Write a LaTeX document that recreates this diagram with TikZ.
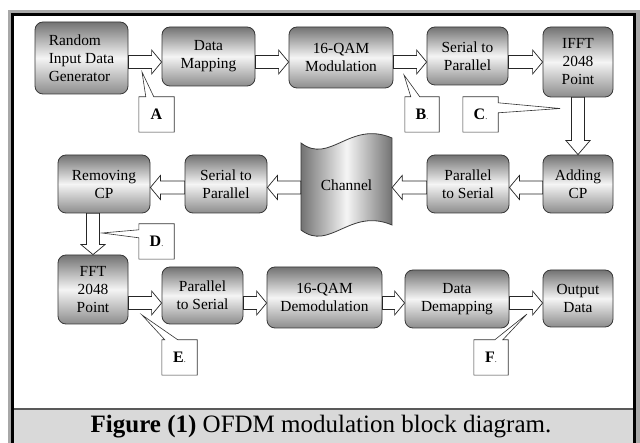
\documentclass[tikz,border=0pt]{standalone}
\usepackage{fontspec}
\setmainfont{Liberation Serif}
\usetikzlibrary{calc}

\definecolor{boxtop}{gray}{0.45}
\definecolor{boxmid}{gray}{0.96}
\definecolor{boxbot}{gray}{0.55}
\definecolor{edge}{gray}{0.22}
\definecolor{tablegray}{gray}{0.66}
\definecolor{capfill}{gray}{0.85}

% hollow block arrow geometry
\def\flowshaft{6.5pt}
\def\flowwing{12pt}
\def\flowhead{10pt}

\tikzset{
  stage/.style={draw=edge, line width=0.8pt, rounded corners=8pt,
    top color=boxtop, bottom color=boxbot, middle color=boxmid,
    inner sep=0pt, align=center, font=\fontsize{15.4}{18}\selectfont},
  flowhead/.code={\def\flowhead{#1}},
  flow/.style={draw=black!85, fill=white, line width=0.7pt, line join=miter,
    to path={
      let \p1=(\tikztostart), \p2=(\tikztotarget),
          \p3=($(\tikztotarget)!\flowhead!(\tikztostart)$)
      in ($(\p1)!\flowshaft!90:(\p2)$) -- ($(\p3)!\flowshaft!90:(\p2)$)
         -- ($(\p3)!\flowwing!90:(\p2)$) -- (\p2)
         -- ($(\p3)!\flowwing!-90:(\p2)$) -- ($(\p3)!\flowshaft!-90:(\p2)$)
         -- ($(\p1)!\flowshaft!-90:(\p2)$) -- cycle}},
  tag/.style={inner sep=0pt, minimum width=35pt, minimum height=35pt,
    font=\fontsize{16}{16}\selectfont\bfseries},
  tagline/.style={draw=black!80, line width=0.6pt, line join=miter},
}

\newcommand{\tagdot}{{\fontsize{8}{8}\selectfont\mdseries.}}

\begin{document}
\begin{tikzpicture}[x=1pt,y=-1pt]
\useasboundingbox (0,0) rectangle (640,443);

% table frame and caption cell
\fill[tablegray] (8,10) rectangle (640,443);
\fill[black] (11,13) rectangle (636,443);
\fill[white] (14,16) rectangle (633,408);
\fill[black!65] (14,408) rectangle (633,410.5);
\fill[capfill] (14,410.5) rectangle (633,443);
\node[font=\fontsize{25}{28}\selectfont] (caption) at (321,427)
  {\textbf{Figure (1)} OFDM modulation block diagram.};

% transmitter row
\node[stage, minimum width=93pt, minimum height=72pt, align=left] (rand) at (81.5,58)
  {Random\\Input Data\\Generator};
\node[stage, minimum width=93pt, minimum height=59pt] (dm) at (208.5,56.5) {Data\\Mapping};
\node[stage, minimum width=104pt, minimum height=61pt] (qam) at (341,57.5) {16-QAM\\Modulation};
\node[stage, minimum width=81pt, minimum height=58pt] (sp1) at (467.5,56) {Serial to\\Parallel};
\node[stage, minimum width=70pt, minimum height=70pt] (ifft) at (578,62) {IFFT\\2048\\Point};

% channel row
\node[stage, minimum width=70pt, minimum height=58pt] (addcp) at (578,184) {Adding\\CP};
\node[stage, minimum width=82pt, minimum height=58pt] (ps1) at (468,184) {Parallel\\to Serial};
\path[draw=edge, line width=0.8pt, left color=boxtop, right color=boxtop, middle color=boxmid]
  (301,143) .. controls (330,165) and (350,120) .. (392,138) -- (392,225)
  .. controls (350,207) and (330,252) .. (301,230) -- cycle;
\node[font=\fontsize{15.4}{18}\selectfont, minimum width=91pt, minimum height=70pt,
  inner sep=0pt] (channel) at (346.5,185) {Channel};
\node[stage, minimum width=82pt, minimum height=58pt] (sp2) at (226,184) {Serial to\\Parallel};
\node[stage, minimum width=92pt, minimum height=58pt] (remcp) at (104,184) {Removing\\CP};

% receiver row
\node[stage, minimum width=70pt, minimum height=69pt] (fft) at (93,289.5) {FFT\\2048\\Point};
\node[stage, minimum width=81pt, minimum height=57pt] (ps2) at (202.5,295.5) {Parallel\\to Serial};
\node[stage, minimum width=115pt, minimum height=61pt] (demod) at (324.5,297.5) {16-QAM\\Demodulation};
\node[stage, minimum width=104pt, minimum height=58pt] (dd) at (457,299) {Data\\Demapping};
\node[stage, minimum width=70pt, minimum height=57pt] (out) at (578,298.5) {Output\\Data};

% arrow levels
\coordinate (r1) at (0,62);
\coordinate (r2) at (0,187.5);
\coordinate (r3) at (0,303);

% block arrows
\draw[flow] (rand.east |- r1) to (dm.west |- r1);
\draw[flow] (dm.east |- r1) to (qam.west |- r1);
\draw[flow] (qam.east |- r1) to (sp1.west |- r1);
\draw[flow] (sp1.east |- r1) to (ifft.west |- r1);
\draw[flow, flowhead=14pt] (ifft.south) to (addcp.north);
\draw[flow] (addcp.west |- r2) to (ps1.east |- r2);
\draw[flow] (ps1.west |- r2) to (channel.east |- r2);
\draw[flow] (channel.west |- r2) to (sp2.east |- r2);
\draw[flow] (sp2.west |- r2) to (remcp.east |- r2);
\draw[flow] (remcp.south -| fft.north) to (fft.north);
\draw[flow] (fft.east |- r3) to (ps2.west |- r3);
\draw[flow] (ps2.east |- r3) to (demod.west |- r3);
\draw[flow] (demod.east |- r3) to (dd.west |- r3);
\draw[flow] (dd.east |- r3) to (out.west |- r3);

% callout labels
\node[tag] (A) at (156.5,114.5) {A};
\node[tag, minimum width=34pt] (B) at (422,114.5) {B\tagdot};
\node[tag] (C) at (480.5,114.5) {C\tagdot};
\node[tag] (D) at (156.5,241.5) {D\tagdot};
\node[tag] (E) at (179.5,357.5) {E\tagdot};
\node[tag, minimum width=34pt] (F) at (491,357.5) {F\tagdot};

\coordinate (tipA) at (142,72);
\coordinate (tipB) at (404,75);
\coordinate (tipC) at (560,108.5);
\coordinate (tipD) at (102,233);
\coordinate (tipE) at (142,315);
\coordinate (tipF) at (527,314);

\draw[tagline] (A.north west) -- ([xshift=7pt]A.north west) -- (tipA)
  -- ([xshift=15pt]A.north west) -- (A.north east) -- (A.south east) -- (A.south west) -- cycle;
\draw[tagline] (B.north west) -- ([xshift=6pt]B.north west) -- (tipB)
  -- ([xshift=15pt]B.north west) -- (B.north east) -- (B.south east) -- (B.south west) -- cycle;
\draw[tagline] (C.north west) -- (C.north east) -- ([yshift=-6pt]C.north east) -- (tipC)
  -- ([yshift=-16pt]C.north east) -- (C.south east) -- (C.south west) -- cycle;
\draw[tagline] (D.north west) -- (D.north east) -- (D.south east) -- (D.south west)
  -- ([yshift=-14pt]D.north west) -- (tipD) -- ([yshift=-6pt]D.north west) -- cycle;
\draw[tagline] (E.north west) -- ([xshift=3pt]E.north west) -- (tipE)
  -- ([xshift=16pt]E.north west) -- (E.north east) -- (E.south east) -- (E.south west) -- cycle;
\draw[tagline] (F.north west) -- ([xshift=21pt]F.north west) -- (tipF)
  -- ([xshift=29pt]F.north west) -- (F.north east) -- (F.south east) -- (F.south west) -- cycle;
\end{tikzpicture}
\end{document}
